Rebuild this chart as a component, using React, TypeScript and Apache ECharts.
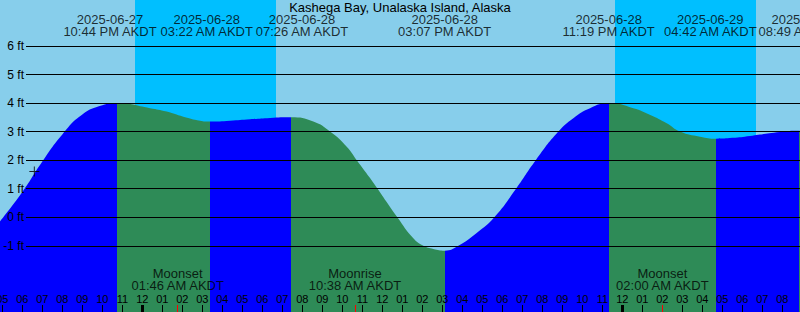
import React, { useEffect, useRef } from "react";
import * as echarts from "echarts";

const TITLE = "Kashega Bay, Unalaska Island, Alaska";
const TZ = "AKDT";
const REF_DAY = "2025-06-28"; // curve hours are counted from this day's midnight
const WINDOW_START = "2025-06-27 16:53";
const WINDOW_END = "2025-06-29 08:53";

const TIDE_EVENT_TIMES = [
  "2025-06-27 22:44",
  "2025-06-28 03:22",
  "2025-06-28 07:26",
  "2025-06-28 15:07",
  "2025-06-28 23:19",
  "2025-06-29 04:42",
  "2025-06-29 08:49",
];
const TIDE_EVENT_TYPES = ["H", "L", "H", "L", "H", "L", "H"];
const TIDE_EVENT_FEET = [4.0, 3.35, 3.5, -1.17, 4.0, 2.75, 3.03];
const TIDE_LABEL_SHIFT = [-7, -3, 11, 0, 0, -6, 6];

// readings of the curve between the events (hours from REF_DAY midnight, feet)
const CURVE_HOURS = [
  -7.117, -6, -5, -4, -3, -2, 0.385, 1.22, 2.05, 2.885, 4.385, 5.385, 6.385,
  8.55, 9.385, 10.22, 10.72, 11.385, 12.75, 13.55, 14.05, 14.55, 15.8, 16.7,
  17.6, 18.685, 19.67, 20.8, 21.55, 22.385, 24.55, 25.4, 26.22, 26.885, 27.885,
  29.5, 30.385, 31.885, 32.883,
];
const CURVE_FEET = [
  -0.15, 0.88, 1.95, 2.9, 3.6, 3.92, 3.82, 3.7, 3.52, 3.38, 3.38, 3.43, 3.48,
  3.35, 3.0, 2.47, 2.0, 1.37, 0.0, -0.74, -1.0, -1.11, -1.0, -0.56, 0.0, 1.0,
  2.0, 3.0, 3.47, 3.82, 3.82, 3.58, 3.29, 3.0, 2.82, 2.78, 2.85, 2.99, 3.03,
];

const NIGHT_STARTS = ["2025-06-27 23:38", "2025-06-28 23:38"];
const NIGHT_ENDS = ["2025-06-28 06:41", "2025-06-29 06:41"];

const MOON_EVENTS = ["Moonset", "Moonrise", "Moonset"];
const MOON_TIMES = ["2025-06-28 01:46", "2025-06-28 10:38", "2025-06-29 02:00"];

const NOW_TIME = "2025-06-27 18:36";
const NOW_FEET = 1.6;

const GRID_FEET = [-1, 0, 1, 2, 3, 4, 5, 6];
const Y_MIN = -3.32;
const Y_MAX = 7.61;

const FONT = "'Liberation Sans', Arial, sans-serif";
const RISING = "#0000FF";
const FALLING = "#2E8B57";

function toHours(s: string): number {
  const [d, t] = s.split(" ");
  const [y, m, dd] = d.split("-").map(Number);
  const [hh, mm] = (t || "00:00").split(":").map(Number);
  const [ry, rm, rd] = REF_DAY.split("-").map(Number);
  return (Date.UTC(y, m - 1, dd, hh, mm) - Date.UTC(ry, rm - 1, rd)) / 3600000;
}

function clock12(s: string): string {
  const t = s.split(" ")[1];
  const [hh, mm] = t.split(":").map(Number);
  const ap = hh >= 12 ? "PM" : "AM";
  const h12 = hh % 12 === 0 ? 12 : hh % 12;
  return `${String(h12).padStart(2, "0")}:${String(mm).padStart(2, "0")} ${ap} ${TZ}`;
}

function hourLabel(v: number): string {
  const hod = ((Math.round(v) % 24) + 24) % 24;
  const h12 = hod % 12 === 0 ? 12 : hod % 12;
  return String(h12).padStart(2, "0");
}

export default function App() {
  const ref = useRef<HTMLDivElement>(null);

  useEffect(() => {
    if (!ref.current) return;
    const chart = echarts.init(ref.current, undefined, { renderer: "svg" });

    const xMin = toHours(WINDOW_START);
    const xMax = toHours(WINDOW_END);
    const eventHours = TIDE_EVENT_TIMES.map(toHours);

    const curve = CURVE_HOURS.map((h, i) => [h, CURVE_FEET[i]]);
    eventHours.forEach((h, i) => curve.push([h, TIDE_EVENT_FEET[i]]));
    curve.sort((a, b) => a[0] - b[0]);

    const bounds = [xMin, ...eventHours, xMax];
    const pieces: any[] = [];
    for (let i = 0; i < bounds.length - 1; i++) {
      let rising: boolean;
      if (i < TIDE_EVENT_TYPES.length) rising = TIDE_EVENT_TYPES[i] === "H";
      else rising = TIDE_EVENT_TYPES[TIDE_EVENT_TYPES.length - 1] === "L";
      const p: any = { gte: bounds[i], color: rising ? RISING : FALLING };
      if (i < bounds.length - 2) p.lt = bounds[i + 1];
      else p.lte = bounds[i + 1] + 1;
      if (i === 0) p.gte = bounds[i] - 1;
      pieces.push(p);
    }

    const hourTicks: number[] = [];
    for (let h = Math.ceil(xMin); h <= Math.floor(xMax); h++) hourTicks.push(h);
    const midnights = hourTicks.filter((h) => ((h % 24) + 24) % 24 === 0);
    const moonHours = MOON_TIMES.map(toHours);

    const bottomAxisBase = {
      type: "value",
      gridIndex: 0,
      position: "bottom",
      min: xMin,
      max: xMax,
      axisLine: { show: false, onZero: false },
      splitLine: { show: false },
    };

    const option: any = {
      animation: false,
      backgroundColor: "#87CEEB",
      textStyle: { fontFamily: FONT },
      title: {
        text: TITLE,
        left: "center",
        top: 1,
        padding: 0,
        textStyle: { fontSize: 13, fontWeight: "normal", color: "#000", fontFamily: FONT },
      },
      grid: [
        { left: 0, right: 0, top: 0, bottom: 0, containLabel: false, outerBoundsMode: "none" },
        { left: 26, right: 0, top: 0, bottom: 0, containLabel: false, outerBoundsMode: "none" },
      ],
      xAxis: [
        {
          ...bottomAxisBase,
          z: 10,
          axisTick: {
            show: true,
            inside: true,
            length: 7,
            customValues: hourTicks,
            lineStyle: { color: "#000", width: 1 },
          },
          axisLabel: {
            show: true,
            inside: true,
            margin: 8,
            customValues: hourTicks,
            formatter: (v: number) => hourLabel(v),
            color: "#000",
            fontSize: 11,
            fontFamily: FONT,
            showMinLabel: true,
            showMaxLabel: true,
            hideOverlap: false,
          },
        },
        {
          ...bottomAxisBase,
          z: 11,
          axisLabel: { show: false },
          axisTick: {
            show: true,
            inside: true,
            length: 7,
            customValues: midnights,
            lineStyle: { color: "#000", width: 3 },
          },
        },
        {
          ...bottomAxisBase,
          z: 11,
          axisLabel: { show: false },
          axisTick: {
            show: true,
            inside: true,
            length: 7,
            customValues: moonHours,
            lineStyle: { color: "#FF0000", width: 1 },
          },
        },
        {
          type: "value",
          gridIndex: 1,
          min: xMin,
          max: xMax,
          show: false,
          axisLine: { onZero: false },
        },
      ],
      yAxis: [
        { type: "value", gridIndex: 0, min: Y_MIN, max: Y_MAX, show: false, axisLine: { onZero: false } },
        { type: "value", gridIndex: 1, min: Y_MIN, max: Y_MAX, show: false, axisLine: { onZero: false } },
      ],
      visualMap: {
        type: "piecewise",
        show: false,
        dimension: 0,
        seriesIndex: 1,
        pieces,
      },
      series: [
        {
          type: "line",
          xAxisIndex: 0,
          yAxisIndex: 0,
          data: [],
          z: 0,
          silent: true,
          markArea: {
            silent: true,
            itemStyle: { color: "#00BFFF", opacity: 1 },
            data: NIGHT_STARTS.map((s, i) => [
              { xAxis: toHours(s) },
              { xAxis: toHours(NIGHT_ENDS[i]) },
            ]),
          },
        },
        {
          type: "line",
          xAxisIndex: 0,
          yAxisIndex: 0,
          data: curve,
          smooth: 0.5,
          showSymbol: false,
          symbol: "none",
          silent: true,
          z: 2,
          lineStyle: { width: 0 },
          areaStyle: { opacity: 1, origin: "start" },
        },
        {
          type: "line",
          xAxisIndex: 3,
          yAxisIndex: 1,
          data: [],
          z: 5,
          silent: true,
          markLine: {
            silent: true,
            symbol: ["none", "none"],
            lineStyle: { color: "#000", width: 1, type: "solid" },
            label: {
              position: "start",
              distance: 2,
              formatter: (p: any) => `${p.value} ft`,
              color: "#000",
              fontSize: 12,
              fontFamily: FONT,
            },
            emphasis: { disabled: true },
            data: GRID_FEET.map((v) => ({ yAxis: v })),
          },
        },
        {
          type: "scatter",
          xAxisIndex: 0,
          yAxisIndex: 0,
          clip: false,
          silent: true,
          z: 12,
          symbolSize: 1,
          itemStyle: { color: "rgba(0,0,0,0)" },
          data: TIDE_EVENT_TIMES.map((s, i) => ({
            value: [eventHours[i], Y_MAX],
            label: {
              show: true,
              position: "inside",
              offset: [TIDE_LABEL_SHIFT[i], 25.5],
              formatter: `${s.split(" ")[0]}\n${clock12(s)}`,
            },
          })),
          label: {
            color: "#000",
            fontSize: 13,
            lineHeight: 12,
            align: "center",
            verticalAlign: "middle",
            fontFamily: FONT,
          },
        },
        {
          type: "scatter",
          xAxisIndex: 0,
          yAxisIndex: 0,
          clip: false,
          silent: true,
          z: 12,
          symbolSize: 1,
          itemStyle: { color: "rgba(0,0,0,0)" },
          data: MOON_TIMES.map((s, i) => ({
            value: [moonHours[i], Y_MIN],
            label: {
              show: true,
              position: "inside",
              offset: [0, -32.5],
              formatter: `${MOON_EVENTS[i]}\n${clock12(s)}`,
            },
          })),
          label: {
            color: "#000",
            fontSize: 13,
            lineHeight: 12,
            align: "center",
            verticalAlign: "middle",
            fontFamily: FONT,
          },
        },
        {
          type: "scatter",
          xAxisIndex: 0,
          yAxisIndex: 0,
          silent: true,
          z: 12,
          symbol: "path://M4.5,0H5.5V10H4.5ZM0,4.5H10V5.5H0Z",
          symbolSize: 10,
          itemStyle: { color: "#000" },
          data: [[toHours(NOW_TIME), NOW_FEET]],
        },
      ],
    };

    chart.setOption(option);
    return () => chart.dispose();
  }, []);

  return (
    <div
      ref={ref}
      style={{ position: "absolute", left: 0, top: 0, width: 800, height: 312 }}
    />
  );
}
